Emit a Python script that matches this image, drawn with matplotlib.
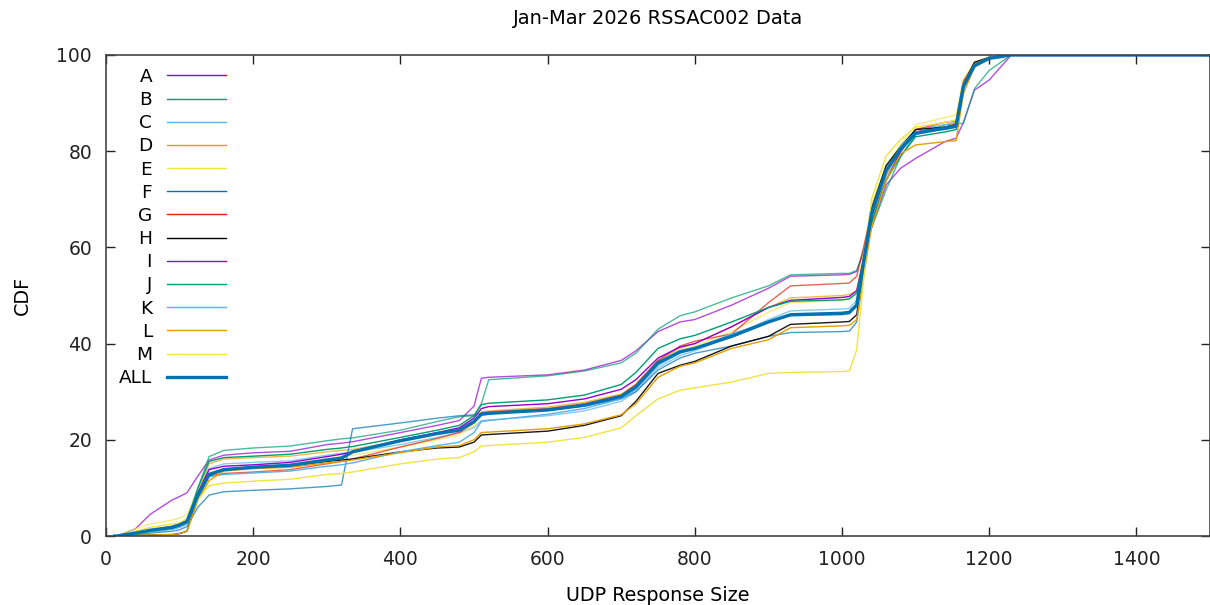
import matplotlib
matplotlib.use('Agg')
import matplotlib.pyplot as plt

# response size grid (bytes) shared by all curves
sizes = [12, 15, 40, 60, 90, 100, 110, 125, 140, 160, 200, 250, 300, 320, 335,
         400, 450, 480, 500, 510, 520, 600, 650, 700, 720, 750, 780, 800, 850,
         900, 930, 1000, 1010, 1020, 1040, 1060, 1080, 1100, 1140, 1155, 1165,
         1180, 1200, 1230, 1500]

cdf_a = [0, 0, 1.5, 4.5, 7.5, 8.2, 9.0, 12.5, 15.8, 16.8, 17.3, 17.6, 19.0, 19.3, 19.6,
         21.5, 23, 24, 27, 32.8, 33, 33.5, 34.5, 36.5, 38.5, 42.5, 44.5, 45, 48,
         51.5, 54, 54.3, 54.4, 55, 64, 73, 76.5, 78.5, 82, 82.7, 86,
         92.7, 94.8, 100, 100]
cdf_b = [0, 0, 0.5, 1.2, 2, 2.5, 3.5, 10, 16.5, 17.8, 18.3, 18.7, 19.8, 20.2, 20.4,
         22, 23.8, 24.8, 25, 27.5, 32.5, 33.3, 34.3, 36, 38, 43, 45.8, 46.6, 49.5,
         52, 54.3, 54.6, 54.6, 55.2, 64, 72, 79, 83.5, 85.5, 85.7, 85.8,
         93, 96.8, 100, 100]
cdf_c = [0, 0, 0.5, 1, 1.8, 2.2, 3, 9, 14, 15, 15.3, 15.6, 16.8, 17.2, 17.4,
         19, 20.5, 21.5, 22.5, 24, 24.1, 25, 26, 28, 30, 35, 37.5, 38.5, 41.5,
         45, 46.8, 47.2, 47.3, 49, 66, 75, 80, 84.5, 85.5, 86, 94,
         98, 99.3, 100, 100]
cdf_d = [0, 0, 0.3, 0.8, 1.5, 2, 2.8, 9, 15, 16, 16.3, 16.6, 17.5, 17.8, 18,
         19.8, 21.3, 22, 23.5, 25.8, 26, 26.8, 27.8, 29.5, 31.5, 36.5, 39, 40, 43.5,
         47.5, 49.5, 50, 50.2, 51, 66, 75, 80.5, 84, 85, 86, 94.5,
         98.3, 99.5, 100, 100]
cdf_e = [0, 0, 1.5, 2.5, 3.3, 3.7, 4.5, 9.5, 13, 14, 14.3, 14.8, 16, 16.5, 16.8,
         18.5, 20, 21, 23, 25.3, 25.5, 26.3, 27.3, 29, 31, 36, 38.5, 39.5, 42.5,
         46.5, 48.5, 49, 49.2, 50.5, 69, 77, 81.5, 85.5, 87, 87.5, 95,
         98.5, 99.5, 100, 100]
cdf_f = [0, 0, 0.3, 0.6, 1, 1.3, 2, 6, 8.5, 9.2, 9.5, 9.8, 10.3, 10.6, 22.3,
         23.5, 24.5, 25, 25.2, 25.5, 25.6, 26.2, 27, 28.5, 30, 34.5, 37, 38, 39.5,
         41.5, 42.3, 42.5, 42.6, 44.5, 66, 76, 81, 84, 84.5, 85, 93.5,
         98, 99.3, 100, 100]
cdf_g = [0, 0, 0.5, 1.2, 2, 2.5, 3.3, 8.5, 12.5, 13, 13.3, 13.8, 15, 15.5, 16,
         18.5, 20.3, 21.5, 23.5, 25.6, 25.8, 26.5, 27.5, 29.3, 31.5, 36.5, 39.5, 40.5, 42,
         48.5, 52, 52.5, 52.6, 54, 67, 76, 80, 84.5, 86, 86.3, 94.5,
         98, 99.5, 100, 100]
cdf_h = [0, 0, 0.1, 0.2, 0.3, 0.5, 1, 8, 12.5, 13.8, 14.2, 14.6, 15.5, 15.8, 16,
         17.5, 18.3, 18.5, 19.5, 21, 21.1, 21.8, 23, 25, 28, 33.8, 35.5, 36.3, 39.5,
         41.5, 44, 44.5, 44.6, 46, 68, 77, 81, 84.5, 85, 85.5, 94,
         98.5, 99.5, 100, 100]
cdf_i = [0, 0, 0.5, 1, 1.7, 2.2, 3, 9, 13.8, 14.5, 14.8, 15.3, 16.5, 17, 17.5,
         20, 21.5, 22.5, 24.5, 26.5, 26.9, 27.5, 28.5, 30.5, 32.5, 37, 39.3, 40, 43.5,
         47.5, 49, 49.6, 49.8, 51, 65, 74, 80, 84, 85, 85.5, 94,
         98, 99.3, 100, 100]
cdf_j = [0, 0, 0.4, 1, 1.7, 2.2, 3, 10, 15.5, 16.3, 16.6, 17, 18, 18.3, 18.6,
         20.5, 22, 23, 25, 27.3, 27.6, 28.3, 29.3, 31.5, 34, 39, 41, 41.7, 44.5,
         47.5, 48.8, 49.1, 49.3, 50.5, 65, 74, 79, 83, 84, 84.5, 93,
         97.5, 99.2, 100, 100]
cdf_k = [0, 0, 0.4, 0.8, 1.4, 1.8, 2.5, 8, 12.3, 12.8, 13.1, 13.5, 14.5, 14.8, 15.2,
         17.5, 18.8, 19.5, 21.5, 23.8, 24, 25.3, 26.5, 28.5, 30.5, 35.5, 38, 39, 42,
         44.5, 45.8, 46, 46.2, 48, 67, 76, 81, 84, 84.8, 85.2, 93.5,
         98, 99.3, 100, 100]
cdf_l = [0, 0, 0.1, 0.2, 0.3, 0.5, 1, 7.5, 11.5, 13.5, 14, 14.3, 15.2, 15.5, 15.8,
         17.3, 18.5, 18.8, 20, 21.5, 21.6, 22.3, 23.3, 25.2, 27.5, 33, 35.3, 36, 39,
         40.8, 43.3, 43.7, 43.8, 45, 64, 74, 79.5, 81.3, 82, 82.2, 92,
         97.5, 99.2, 100, 100]
cdf_m = [0, 0, 1, 1.8, 2.5, 2.8, 3.5, 7.5, 10.5, 11, 11.4, 11.8, 12.8, 13, 13.3,
         15, 16, 16.3, 17.5, 18.7, 18.8, 19.5, 20.5, 22.5, 25, 28.5, 30.3, 30.8, 32,
         33.8, 34, 34.2, 34.3, 38.7, 70, 79, 82.5, 85, 86, 86.5, 94,
         98, 99.5, 100, 100]
cdf_all = [0, 0, 0.6, 1.2, 1.8, 2.3, 3, 8.5, 12.8, 13.8, 14.3, 14.7, 15.8, 16.2, 17.5,
           19.8, 21.3, 22, 23.8, 25.3, 25.5, 26.2, 27.2, 29, 31, 36, 38.3, 39, 41.5,
           44.5, 46, 46.3, 46.5, 48, 67, 76, 80.5, 83.7, 84.8, 85.2, 93.5,
           97.8, 99.3, 100, 100]

labels = ["A", "B", "C", "D", "E", "F", "G", "H", "I", "J", "K", "L", "M", "ALL"]
curves = [cdf_a, cdf_b, cdf_c, cdf_d, cdf_e, cdf_f, cdf_g, cdf_h,
          cdf_i, cdf_j, cdf_k, cdf_l, cdf_m, cdf_all]

# gnuplot default palette, first round a bit faded
palette = ["#9400d3", "#009e73", "#56b4e9", "#e69f00", "#f0e442", "#0072b2", "#e51e10", "#000000"]
colors = palette + palette[:5] + ["#0072b2"]
alphas = [0.7] * 7 + [0.9] + [1.0] * 6
widths = [1.0] * 13 + [2.4]

fig = plt.figure(figsize=(12.1, 6.05), dpi=100)
ax = fig.add_axes([106 / 1210, 69 / 605, 1104 / 1210, 481 / 605])

for lab, ys, c, a, w in zip(labels, curves, colors, alphas, widths):
    ax.plot(sizes, ys, color=c, alpha=a, lw=w, label=lab)

ax.set_xlim(0, 1500)
ax.set_ylim(0, 100)
ax.set_xticks(range(0, 1600, 200))
ax.set_yticks(range(0, 120, 20))
ax.tick_params(direction='in', length=6.5, width=1, top=True, right=True,
               labelsize=13.5, pad=10, colors='#222222')
for sp in ax.spines.values():
    sp.set_color('#444444')
    sp.set_linewidth(1.2)

ax.set_title("Jan-Mar 2026 RSSAC002 Data", fontsize=14, pad=22)
ax.set_xlabel("UDP Response Size", fontsize=13.8, labelpad=12)
ax.set_ylabel("CDF", fontsize=13.8, labelpad=18)

leg = ax.legend(loc='upper left', bbox_to_anchor=(0.0, 1.0), markerfirst=False,
                frameon=False, fontsize=13.3, handlelength=3.2, handletextpad=0.8,
                labelspacing=0.28, borderaxespad=0.3)
for line in leg.get_lines():
    line.set_alpha(1.0)

fig.savefig("out.png", dpi=100)
